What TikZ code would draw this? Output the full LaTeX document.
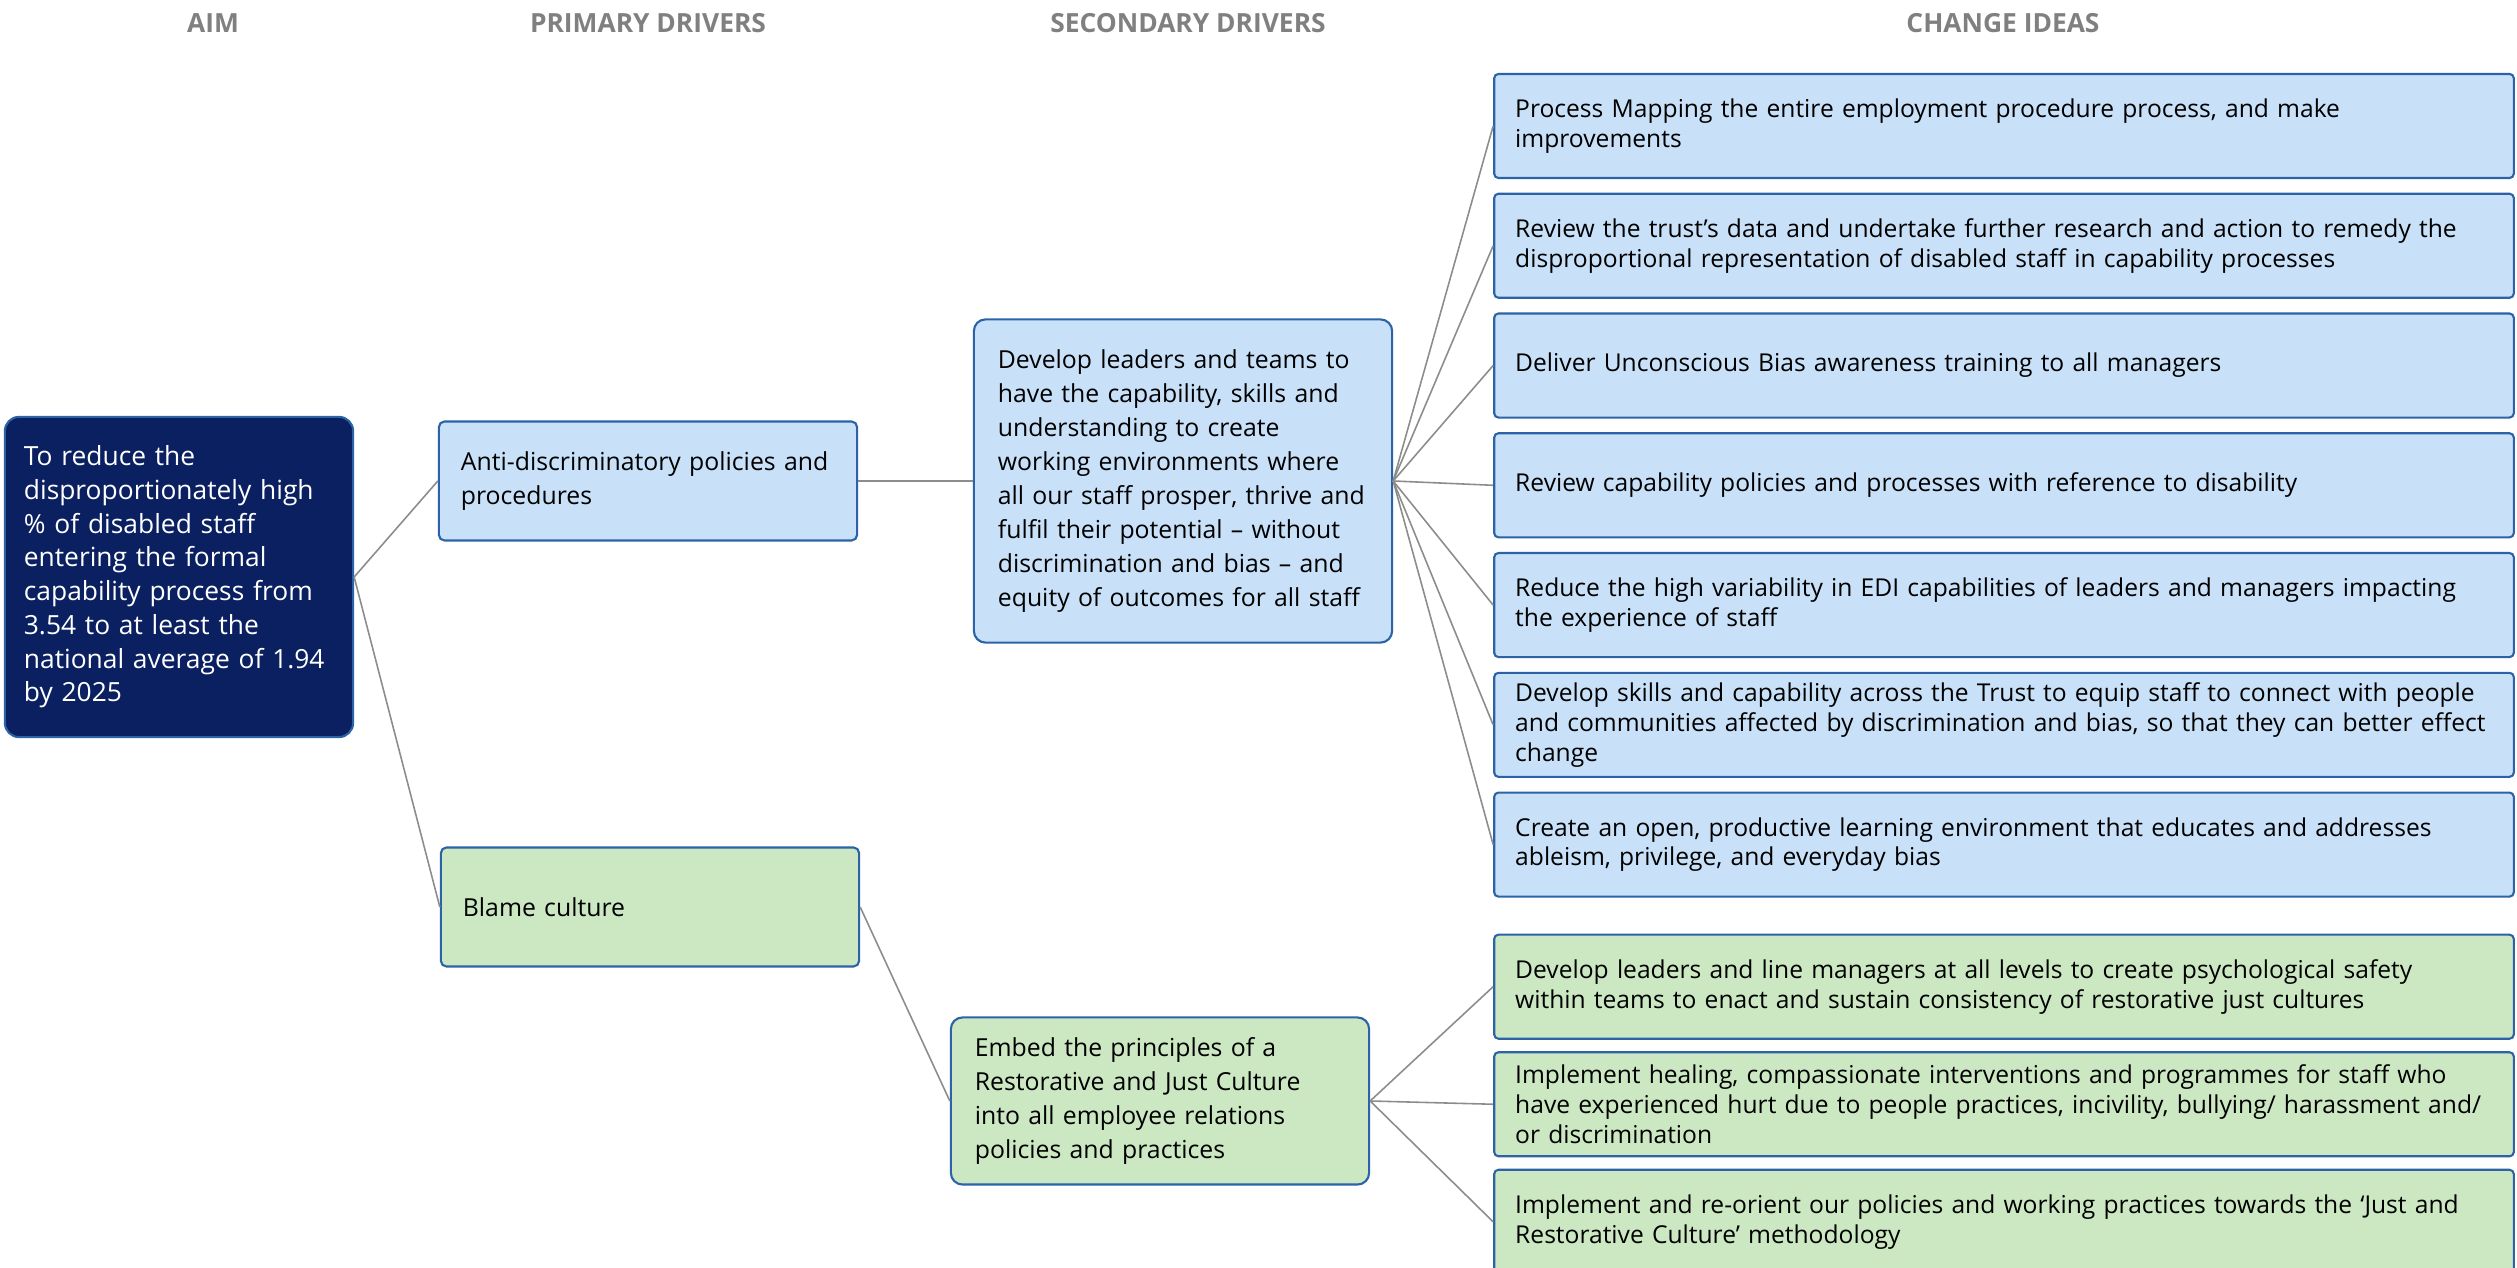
\documentclass[tikz,border=0pt]{standalone}
\usepackage{fontspec}
\setmainfont{Open Sans}
\usetikzlibrary{positioning}

\definecolor{aimnavy}{HTML}{0A2060}
\definecolor{fillblue}{HTML}{C9E1F8}
\definecolor{fillgreen}{HTML}{CCE8C3}
\definecolor{rimblue}{HTML}{2C62A6}
\definecolor{linkgray}{HTML}{8C8C8C}
\definecolor{headgray}{HTML}{808080}

\begin{document}
\begin{tikzpicture}[x=0.01cm, y=-0.01cm, node distance=1.197cm, on grid,
  box/.style={draw=rimblue, line width=0.6pt, align=left, inner ysep=1pt},
  drvtext/.style={font=\fontsize{7.05}{9.7}\selectfont},
  ideatext/.style={font=\fontsize{7.0}{8.5}\selectfont},
  aimbox/.style={box, font=\fontsize{7.5}{9.6}\selectfont, fill=aimnavy, text=white, rounded corners=4pt,
    inner xsep=0.19cm, text width=3.1cm, minimum width=3.48cm, minimum height=3.2cm},
  pribox/.style={box, drvtext, rounded corners=1.6pt, inner xsep=0.22cm,
    text width=3.74cm, minimum width=4.18cm, minimum height=1.19cm},
  secbox/.style={box, drvtext, rounded corners=3.3pt, inner xsep=0.24cm,
    text width=3.70cm, minimum width=4.18cm},
  ideabox/.style={box, ideatext, rounded corners=1.2pt, inner xsep=0.21cm,
    text width=9.77cm, minimum width=10.19cm, minimum height=1.04cm},
  blueside/.style={fill=fillblue},
  greenside/.style={fill=fillgreen},
  head/.style={text=headgray, font=\fontsize{7.5}{8}\selectfont\bfseries},
  link/.style={draw=linkgray, line width=0.45pt}]

  \useasboundingbox (0,0) rectangle (2517,1268);

  % column headings
  \node[head] (hAim) at (213,23) {AIM};
  \node[head] (hPri) at (648,23) {PRIMARY DRIVERS};
  \node[head] (hSec) at (1188,23) {SECONDARY DRIVERS};
  \node[head] (hIdea) at (2003,23) {CHANGE IDEAS};

  % aim and drivers
  \node[aimbox] (aim) at (179,577) {To reduce the\\ disproportionately high\\ \% of disabled staff\\ entering the formal\\ capability process from\\ 3.54 to at least the\\ national average of 1.94\\ by 2025};
  \node[pribox, blueside] (anti) at (648,481) {Anti-discriminatory policies and\\ procedures};
  \node[pribox, greenside] (blame) at (650,907) {Blame culture};
  \node[secbox, blueside, minimum height=3.23cm] (lead) at (1183,481) {Develop leaders and teams to\\ have the capability, skills and\\ understanding to create\\ working environments where\\ all our staff prosper, thrive and\\ fulfil their potential -- without\\ discrimination and bias -- and\\ equity of outcomes for all staff};
  \node[secbox, greenside, minimum height=1.67cm] (embed) at (1160,1101) {Embed the principles of a\\ Restorative and Just Culture\\ into all employee relations\\ policies and practices};

  % change ideas
  \node[ideabox, blueside] (c1) at (2004,126) {Process Mapping the entire employment procedure process, and make\\ improvements};
  \node[ideabox, blueside] (c2) [below=of c1] {Review the trust’s data and undertake further research and action to remedy the\\ disproportional representation of disabled staff in capability processes};
  \node[ideabox, blueside] (c3) [below=of c2] {Deliver Unconscious Bias awareness training to all managers};
  \node[ideabox, blueside] (c4) [below=of c3] {Review capability policies and processes with reference to disability};
  \node[ideabox, blueside] (c5) [below=of c4] {Reduce the high variability in EDI capabilities of leaders and managers impacting\\ the experience of staff};
  \node[ideabox, blueside] (c6) [below=of c5] {Develop skills and capability across the Trust to equip staff to connect with people\\ and communities affected by discrimination and bias, so that they can better effect\\ change};
  \node[ideabox, blueside] (c7) [below=of c6] {Create an open, productive learning environment that educates and addresses\\ ableism, privilege, and everyday bias};
  \node[ideabox, greenside] (c8) [below=1.42cm of c7] {Develop leaders and line managers at all levels to create psychological safety\\ within teams to enact and sustain consistency of restorative just cultures};
  \node[ideabox, greenside] (c9) [below=1.175cm of c8] {Implement healing, compassionate interventions and programmes for staff who\\ have experienced hurt due to people practices, incivility, bullying/ harassment and/\\ or discrimination};
  \node[ideabox, greenside] (c10) [below=1.175cm of c9] {Implement and re-orient our policies and working practices towards the ‘Just and\\ Restorative Culture’ methodology};

  % connectors
  \path[link] (aim.east) edge (anti.west)
              (aim.east) edge (blame.west)
              (anti.east) edge (lead.west)
              (blame.east) edge (embed.west);
  \foreach \i in {1,...,7}
    \draw[link] (lead.east) -- (c\i.west);
  \foreach \i in {8,9,10}
    \draw[link] (embed.east) -- (c\i.west);
\end{tikzpicture}
\end{document}
